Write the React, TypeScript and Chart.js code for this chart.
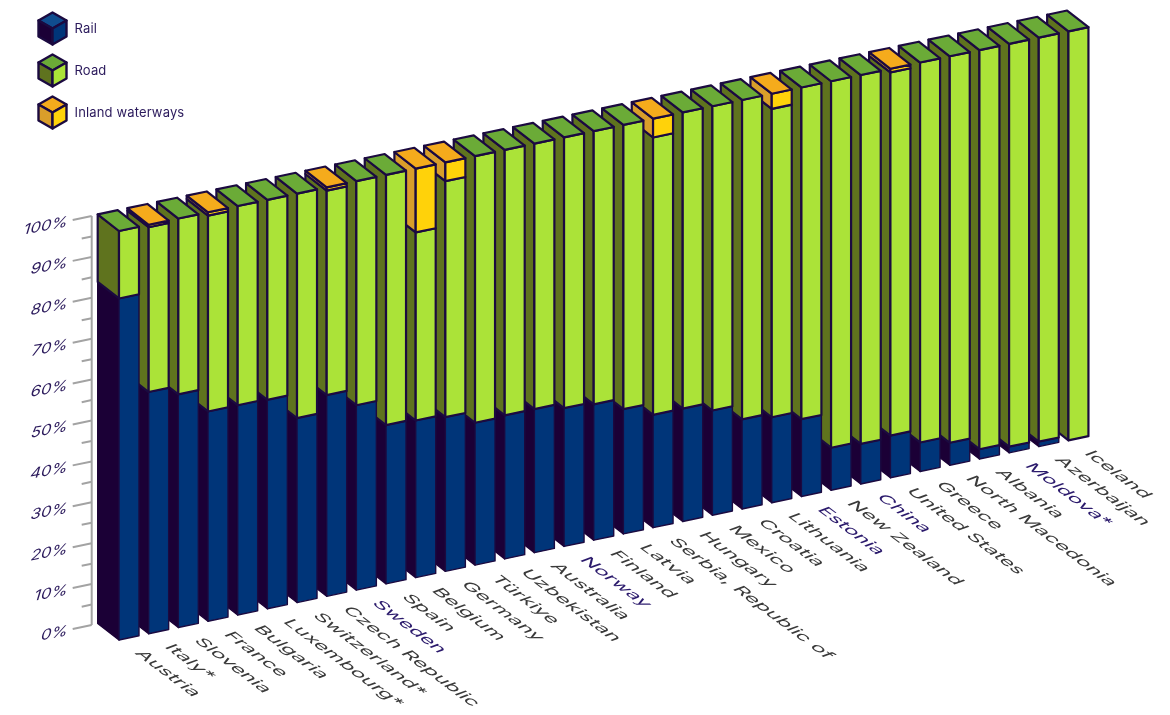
import React, { useEffect, useRef } from "react";
import { Chart, registerables } from "chart.js";

Chart.register(...registerables);

const categories = ["Austria","Italy*","Slovenia","France","Bulgaria","Luxembourg*","Switzerland*","Czech Republic","Sweden","Spain","Belgium","Germany","Türkiye","Uzbekistan","Australia","Norway","Finland","Latvia","Serbia, Republic of","Hungary","Mexico","Croatia","Lithuania","Estonia","New Zealand","China","United States","Greece","North Macedonia","Albania","Moldova*","Azerbaijan","Iceland"];
const railValues = [83.5,59.1,57.0,51.3,51.3,51.1,45.1,49.2,45.2,38.8,38.4,37.7,34.8,35.1,35.1,33.8,33.2,30.5,27.6,27.6,25.6,21.9,20.9,18.9,10.4,9.8,10.3,7.1,5.5,2.4,1.5,1.2,0];
const inlandValues = [0,0.6,0,0.8,0,0,0,0.8,0,0,15.6,4.6,0,0,0,0,0,0,4.6,0,0,0,3.7,0,0,0,0.9,0,0,0,0,0,0];
const roadValues = railValues.map((r, i) => +(100 - r - inlandValues[i]).toFixed(1));
const highlighted = ["Sweden", "Norway", "Estonia", "China", "Moldova*"];

const railColors = { front: "#003579", side: "#1b0036", top: "#104d8f" };
const roadColors = { front: "#abe338", side: "#5f731e", top: "#6bab37" };
const inlandColors = { front: "#ffd20a", side: "#d99e2a", top: "#f5ab1c" };
const INK = "#1b0a40";
const FONT = "Inter";

const STEP = 29.67;
const SLOPE = 0.2103;
const ORIGIN_X = 119;
const DEPTH_X = 21.3;
const DEPTH_Y = 16.6;
const AXIS_X = 91.7;
const AXIS_OFFSET = 15;

const proj = (x: number, y: number): [number, number] => [x, y - SLOPE * (x - ORIGIN_X)];

function poly(ctx: CanvasRenderingContext2D, pts: [number, number][], fill: string, stroke: string, lw: number) {
  ctx.beginPath();
  pts.forEach((p, i) => (i ? ctx.lineTo(p[0], p[1]) : ctx.moveTo(p[0], p[1])));
  ctx.closePath();
  ctx.fillStyle = fill;
  ctx.fill();
  ctx.strokeStyle = stroke;
  ctx.lineWidth = lw;
  ctx.lineJoin = "round";
  ctx.stroke();
}

const iso3d = {
  id: "iso3d",
  beforeDatasetsDraw(chart: any) {
    const ctx: CanvasRenderingContext2D = chart.ctx;
    const metas = chart.data.datasets.map((_: any, i: number) => chart.getDatasetMeta(i));
    const n = chart.data.labels.length;
    ctx.save();
    for (let i = n - 1; i >= 0; i--) {
      let last: any = null;
      let lastColors: any = null;
      metas.forEach((meta: any, d: number) => {
        const el = meta.data[i];
        const value = chart.data.datasets[d].data[i];
        if (!value) return;
        const c = chart.data.datasets[d].faces;
        const left = el.x - el.width / 2;
        const right = el.x + el.width / 2;
        const fl = proj(left, el.base), fr = proj(right, el.base);
        const tl = proj(left, el.y), tr = proj(right, el.y);
        const lw = d === 0 ? 1.4 : 2.2;
        poly(ctx, [fl, tl, [tl[0] - DEPTH_X, tl[1] - DEPTH_Y], [fl[0] - DEPTH_X, fl[1] - DEPTH_Y]], c.side, d === 0 ? c.side : INK, lw);
        poly(ctx, [fl, fr, tr, tl], c.front, INK, lw);
        last = { tl, tr };
        lastColors = c;
      });
      if (last) {
        const { tl, tr } = last;
        poly(ctx, [tl, tr, [tr[0] - DEPTH_X, tr[1] - DEPTH_Y], [tl[0] - DEPTH_X, tl[1] - DEPTH_Y]], lastColors.top, INK, 2.2);
      }
    }
    ctx.restore();
    return false;
  },
  afterDraw(chart: any) {
    const ctx: CanvasRenderingContext2D = chart.ctx;
    const yS = chart.scales.y;
    ctx.save();
    // value axis
    ctx.strokeStyle = "#a3a3a3";
    ctx.lineWidth = 2;
    ctx.beginPath();
    ctx.moveTo(AXIS_X, yS.getPixelForValue(100) - AXIS_OFFSET);
    ctx.lineTo(AXIS_X, yS.getPixelForValue(0) - AXIS_OFFSET);
    ctx.stroke();
    yS.ticks.forEach((t: any) => {
      const py = yS.getPixelForValue(t.value) - AXIS_OFFSET;
      const major = t.value % 10 === 0;
      const len = major ? 19 : 10;
      ctx.beginPath();
      ctx.moveTo(AXIS_X, py);
      ctx.lineTo(AXIS_X - len, py + len * SLOPE);
      ctx.strokeStyle = "#a3a3a3";
      ctx.stroke();
      if (major) {
        ctx.save();
        ctx.translate(AXIS_X - len - 5, py + (len + 5) * SLOPE + 1);
        ctx.transform(1.18, -0.22, -0.32, 1.08, 0, 0);
        ctx.font = `400 14px ${FONT}`;
        ctx.fillStyle = "#2b1a5c";
        ctx.textAlign = "right";
        ctx.textBaseline = "middle";
        ctx.fillText(t.value + "%", 0, 0);
        ctx.restore();
      }
    });
    // category labels, laid on the floor plane
    const ux = 0.8, uy = 0.6, vx = 0.94, vy = -0.34;
    chart.data.labels.forEach((label: string, i: number) => {
      const meta = chart.getDatasetMeta(0).data[i];
      const [bx, by] = proj(meta.x - meta.width / 2, yS.getPixelForValue(0));
      ctx.save();
      ctx.translate(bx + 15, by + 13);
      ctx.transform(ux * 1.7, uy * 1.7, -vx * 1.2, -vy * 1.2, 0, 0);
      ctx.font = `400 13px ${FONT}`;
      ctx.fillStyle = highlighted.includes(label) ? "#2b1a6c" : "#3a3a3a";
      ctx.textAlign = "left";
      ctx.textBaseline = "alphabetic";
      ctx.fillText(label, 0, 0);
      ctx.restore();
    });
    // legend
    const cx = 52.5, half = 14, tipY = 16, shoulder = 8;
    chart.data.datasets.forEach((ds: any, d: number) => {
      const cy = 28.5 + d * 42;
      const c = ds.faces;
      const up: [number, number] = [cx, cy - tipY];
      const ul: [number, number] = [cx - half, cy - shoulder];
      const ur: [number, number] = [cx + half, cy - shoulder];
      const dl: [number, number] = [cx - half, cy + shoulder];
      const dr: [number, number] = [cx + half, cy + shoulder];
      const dn: [number, number] = [cx, cy + tipY];
      const mid: [number, number] = [cx, cy];
      poly(ctx, [up, ur, mid, ul], c.top, INK, 2.4);
      poly(ctx, [ul, mid, dn, dl], c.side, INK, 2.4);
      poly(ctx, [mid, ur, dr, dn], c.front, INK, 2.4);
      ctx.font = `400 13px ${FONT}`;
      (ctx as any).letterSpacing = "0.15px";
      ctx.fillStyle = "#2b1a5c";
      ctx.textAlign = "left";
      ctx.textBaseline = "middle";
      ctx.fillText(ds.label, 74.5, cy + 0.5);
      (ctx as any).letterSpacing = "0px";
    });
    ctx.restore();
  },
};

export default function App() {
  const ref = useRef<HTMLCanvasElement>(null);
  useEffect(() => {
    document.body.style.margin = "0";
    document.body.style.background = "#ffffff";
    const left = ORIGIN_X + 10 - STEP / 2;
    const chart = new Chart(ref.current as HTMLCanvasElement, {
      type: "bar",
      data: {
        labels: categories,
        datasets: [
          { label: "Rail", data: railValues, faces: railColors, backgroundColor: railColors.front },
          { label: "Road", data: roadValues, faces: roadColors, backgroundColor: roadColors.front },
          { label: "Inland waterways", data: inlandValues, faces: inlandColors, backgroundColor: inlandColors.front },
        ] as any,
      },
      options: {
        responsive: false,
        animation: false,
        devicePixelRatio: 1,
        barPercentage: 20 / STEP,
        categoryPercentage: 1,
        layout: { padding: { left, right: 1170 - left - STEP * categories.length, top: 231, bottom: 75 } },
        plugins: { legend: { display: false }, tooltip: { enabled: false } },
        scales: {
          x: { stacked: true, display: false, ticks: { autoSkip: false } },
          y: { stacked: true, display: false, min: 0, max: 100, ticks: { stepSize: 5 } },
        },
      } as any,
      plugins: [iso3d],
    });
    return () => chart.destroy();
  }, []);
  return <canvas ref={ref} width={1170} height={715} style={{ display: "block" }} />;
}
